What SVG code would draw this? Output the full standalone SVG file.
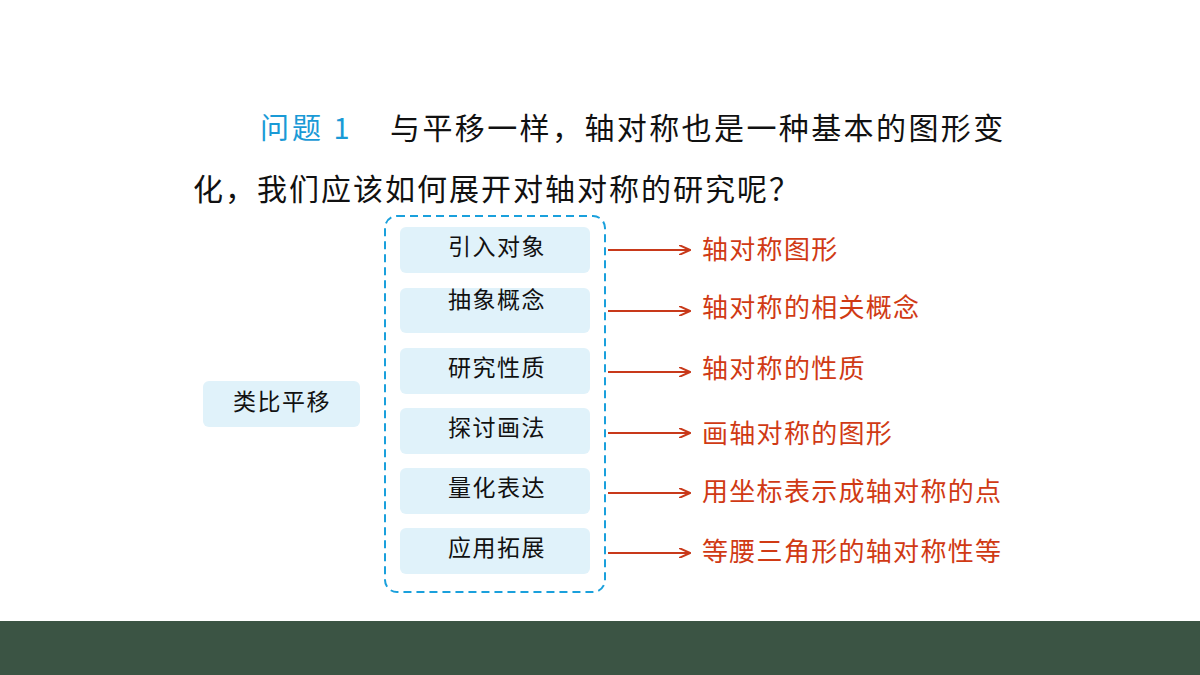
<svg xmlns="http://www.w3.org/2000/svg" width="1200" height="675" viewBox="0 0 1200 675">
<style>
text{font-family:"Noto Sans CJK SC","Liberation Sans",sans-serif}
.b{fill:#e0f2fa}
.t{font-size:23px;fill:#111;text-anchor:middle;letter-spacing:1.5px}
.r{font-size:26px;fill:#d03a14;letter-spacing:1.3px}
.a{stroke:#c8391a;stroke-width:2;fill:none}
</style>
<defs><marker id="m" markerWidth="12" markerHeight="10" refX="11" refY="5" orient="auto" markerUnits="userSpaceOnUse"><path d="M0,0 L11,5 L0,10" fill="none" stroke="#c8391a" stroke-width="2"/></marker></defs>
<rect width="1200" height="675" fill="#fff"/>
<rect y="621" width="1200" height="54" fill="#3b5444"/>
<text x="260" y="139" font-size="29" fill="#1a9ad6" letter-spacing="3">问题 1</text>
<text x="390" y="139" font-size="30" fill="#111" letter-spacing="2.4">与平移一样，轴对称也是一种基本的图形变</text>
<text x="193" y="200" font-size="30" fill="#111" letter-spacing="2">化，我们应该如何展开对轴对称的研究呢？</text>
<rect x="385" y="216" width="220" height="376" rx="12" fill="none" stroke="#1aa0dc" stroke-width="2" stroke-dasharray="8,5"/>
<g id="n0"><rect class="b" x="203" y="381" width="157" height="46" rx="6"/><text class="t" x="282" y="410">类比平移</text></g>
<g id="n1"><rect class="b" x="400" y="227" width="190" height="46" rx="6"/><text class="t" x="497" y="255">引入对象</text></g>
<g id="n2"><rect class="b" x="400" y="288" width="190" height="45" rx="6"/><text class="t" x="497" y="308">抽象概念</text></g>
<g id="n3"><rect class="b" x="400" y="348" width="190" height="46" rx="6"/><text class="t" x="497" y="376">研究性质</text></g>
<g id="n4"><rect class="b" x="400" y="408" width="190" height="46" rx="6"/><text class="t" x="497" y="436">探讨画法</text></g>
<g id="n5"><rect class="b" x="400" y="468" width="190" height="46" rx="6"/><text class="t" x="497" y="496">量化表达</text></g>
<g id="n6"><rect class="b" x="400" y="528" width="190" height="46" rx="6"/><text class="t" x="497" y="556">应用拓展</text></g>
<g id="connectors">
<path class="a" d="M608,250H690" marker-end="url(#m)"/>
<path class="a" d="M608,311H690" marker-end="url(#m)"/>
<path class="a" d="M608,372H690" marker-end="url(#m)"/>
<path class="a" d="M608,433H690" marker-end="url(#m)"/>
<path class="a" d="M608,493H690" marker-end="url(#m)"/>
<path class="a" d="M608,553H690" marker-end="url(#m)"/>
</g>
<text class="r" x="702" y="259">轴对称图形</text>
<text class="r" x="702" y="317">轴对称的相关概念</text>
<text class="r" x="702" y="378">轴对称的性质</text>
<text class="r" x="702" y="443">画轴对称的图形</text>
<text class="r" x="702" y="501">用坐标表示成轴对称的点</text>
<text class="r" x="702" y="561">等腰三角形的轴对称性等</text>
</svg>
